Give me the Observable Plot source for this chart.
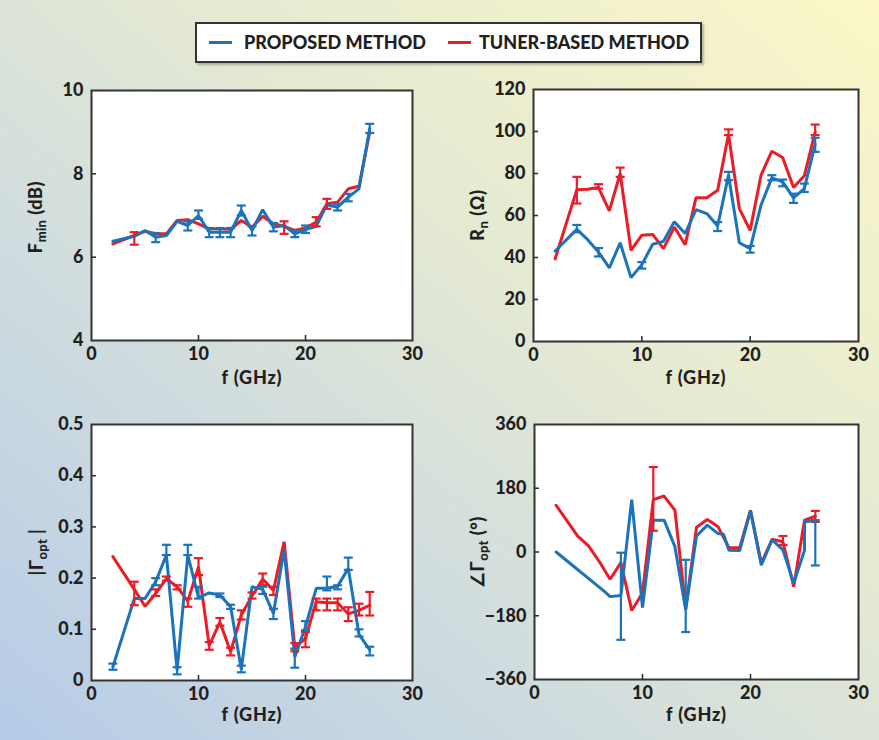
<!DOCTYPE html>
<html>
<head>
<meta charset="utf-8">
<script src="https://cdn.jsdelivr.net/npm/d3@7"></script>
<script src="https://cdn.jsdelivr.net/npm/@observablehq/plot@0.6"></script>
<style>
  html, body { margin: 0; padding: 0; }
  #page {
    position: relative; width: 879px; height: 740px; overflow: hidden;
    background: linear-gradient(to top right, #b5cbe7 0%, #d3dedd 38%, #e4e9d3 60%, #fbf7c6 100%);
    font-family: Lato, "Open Sans", sans-serif; color: #231f20;
  }
  .panel { position: absolute; }
  .ylab {
    position: absolute; white-space: nowrap; font-weight: 900; font-size: 18px; letter-spacing: 0.6px;
    transform: translate(-50%, -50%) rotate(-90deg);
  }
  .ylab sub { font-size: 13px; vertical-align: -4px; letter-spacing: 0.3px; }
  #legend {
    position: absolute; left: 195px; top: 22px; width: 503px; height: 37px;
    border: 2px solid #333; background: #fff; box-shadow: 2px 2px 2px rgba(0,0,0,0.25);
    font-weight: 900; font-size: 18px; white-space: nowrap;
  }
  #legend .sw { position: absolute; top: 17px; width: 23px; height: 3px; }
  #legend .tx { position: absolute; top: 7px; line-height: 22px; letter-spacing: 0px; }
</style>
</head>
<body>
<div id="page">
  <div id="legend">
    <div class="sw" style="left:12px;background:#1b73bc"></div>
    <div class="tx" style="left:47px">PROPOSED METHOD</div>
    <div class="sw" style="left:251px;background:#ec1c27"></div>
    <div class="tx" style="left:282px">TUNER-BASED METHOD</div>
  </div>
  <div class="ylab" style="left:36px;top:217px">F<sub>min</sub> (dB)</div>
  <div class="ylab" style="left:478px;top:215px">R<sub>n</sub> (Ω)</div>
  <div class="ylab" style="left:37px;top:552px">|Γ<sub>opt</sub> |</div>
  <div class="ylab" style="left:478px;top:552px">∠Γ<sub>opt</sub> (°)</div>
</div>
<script>
// ---------- data ----------
const freq = [2,4,5,6,7,8,9,10,11,12,13,14,15,16,17,18,19,20,21,22,23,24,25,26];
const xTicks = [0,10,20,30];

// Fmin (dB)
const fminProposed = [6.38,6.5,6.64,6.48,6.52,6.86,6.76,7.0,6.6,6.6,6.6,7.12,6.64,7.14,6.72,6.76,6.56,6.66,6.74,7.26,7.2,7.44,7.64,9.08];
const fminTuner    = [6.32,6.52,6.62,6.56,6.56,6.88,6.9,6.8,6.68,6.68,6.67,6.88,6.72,6.98,6.8,6.74,6.64,6.7,6.84,7.28,7.32,7.64,7.7,9.0];
const fminProposedErr = [[6,6.36,6.58],[9,6.64,6.86],[10,6.92,7.12],[11,6.48,6.7],[12,6.48,6.7],[13,6.48,6.7],[14,7.0,7.24],[15,6.52,6.74],[17,6.62,6.82],[19,6.48,6.64],[20,6.58,6.76],[23,7.12,7.28],[24,7.34,7.52],[26,8.98,9.2]];
const fminTunerErr = [[4,6.3,6.6],[18,6.56,6.86],[21,6.74,6.96],[22,7.16,7.4]];
const fminTicks = [4,6,8,10];

// Rn (ohm)
const rnProposed = [43.1,53.4,48.5,42.6,35.1,47,30.4,36.6,46.3,47.7,57,51.4,62.8,60.9,55,79.2,47,44.2,64.9,77.9,76,68.4,72.8,94];
const rnTuner    = [39.4,72.3,72.5,73.3,62.2,80,43.4,50.6,51,44.2,54.5,46.1,68.5,68.5,72,98.7,63.3,52.9,79.2,90.6,87.6,73.3,78.9,99.8];
const rnProposedErr = [[4,52,55.5],[6,40.5,44.5],[10,34.7,37.8],[17,52.6,56.9],[18,76.8,80.8],[20,42.3,45.5],[22,76.8,79.2],[23,73.9,77.1],[24,66,70.4],[25,71.2,75.2],[26,90.3,97]];
const rnTunerErr = [[4,65.7,78.4],[6,72.8,74.9],[8,78.4,82.8],[18,98.3,101],[26,98.3,103.3]];
const rnTicks = [0,20,40,60,80,100,120];

// |Gamma_opt|
const gammaProposed = [0.027,0.16,0.16,0.193,0.245,0.02,0.245,0.162,0.171,0.167,0.144,0.022,0.183,0.178,0.131,0.256,0.046,0.105,0.18,0.18,0.184,0.219,0.09,0.06];
const gammaTuner    = [0.242,0.178,0.145,0.17,0.199,0.183,0.155,0.222,0.068,0.114,0.056,0.128,0.165,0.198,0.176,0.271,0.065,0.082,0.154,0.152,0.152,0.13,0.137,0.147];
const gammaProposedErr = [[2,0.021,0.033],[6,0.186,0.2],[7,0.245,0.265],[8,0.012,0.026],[9,0.245,0.265],[10,0.16,0.183],[12,0.163,0.17],[13,0.14,0.148],[14,0.016,0.029],[16,0.169,0.183],[17,0.12,0.14],[19,0.025,0.062],[20,0.098,0.116],[22,0.176,0.203],[23,0.178,0.186],[24,0.216,0.24],[25,0.086,0.1],[26,0.049,0.066]];
const gammaTunerErr = [[4,0.147,0.193],[6,0.165,0.178],[7,0.195,0.203],[8,0.178,0.186],[9,0.144,0.16],[10,0.206,0.239],[11,0.06,0.075],[12,0.107,0.122],[13,0.049,0.064],[14,0.119,0.137],[15,0.16,0.172],[16,0.186,0.209],[17,0.167,0.183],[19,0.057,0.073],[20,0.065,0.095],[21,0.137,0.16],[22,0.137,0.16],[23,0.137,0.16],[24,0.116,0.143],[25,0.127,0.15],[26,0.127,0.173]];
const gammaTicks = [0,0.1,0.2,0.3,0.4,0.5];

// angle of Gamma_opt (deg)
const angleProposedFreq = [2,6.5,7,8,9,10,11,12,13,14,15,16,17,17.5,18,19,20,21,22,23,24,25,25,26];
const angleProposed = [0,-112,-126,-123,148,-157,90,90,15,-163,45,76,52,50,5,4,116,-37,34,6,-88,5,85,90];
const angleTuner    = [132,45,17,-27,-77,-30,-165,-116,148,158,118,-160,70,92,71,12,12,118,-32,36,29,-98,90,101];
const angleProposedErr = [[8,-248,-2],[14,-226,-22],[26,-38,90]];
const angleTunerErr = [[11,60,240],[23,20,45],[26,85,116]];
const angleTicks = [-360,-180,0,180,360];

// ---------- drawing ----------
const BLUE = "#1b73bc", RED = "#ec1c27", INK = "#231f20";
const fmt = d => d < 0 ? "\u2212" + Math.abs(d) : String(d);

const capSymbol = { draw(ctx, size) { const r = Math.sqrt(size / Math.PI); ctx.moveTo(-r, 0); ctx.lineTo(r, 0); } };

function series(fs, vs) { return fs.map((x, i) => ({x, y: vs[i]})); }
function errs(arr) { return arr.map(([x, lo, hi]) => ({x, lo, hi})); }

function errMarks(arr, color) {
  const d = errs(arr);
  return [
    Plot.ruleX(d, {x: "x", y1: "lo", y2: "hi", stroke: color, strokeWidth: 2.2}),
    Plot.dot(d, {x: "x", y: "lo", symbol: capSymbol, r: 4.5, stroke: color, strokeWidth: 2.2}),
    Plot.dot(d, {x: "x", y: "hi", symbol: capSymbol, r: 4.5, stroke: color, strokeWidth: 2.2})
  ];
}

function panel(o) {
  const {left, top, ml, mt, w, h, mr, mb, yDomain, yTicks, pf, pv, tf, tv, pe, te, xlabDy} = o;
  const innerY = yTicks.slice(1, -1);
  const chart = Plot.plot({
    width: ml + w + mr, height: mt + h + mb,
    marginLeft: ml, marginRight: mr, marginTop: mt, marginBottom: mb,
    style: {background: "transparent", fontFamily: "Lato, 'Open Sans', sans-serif", color: INK, overflow: "visible"},
    x: {domain: [0, 30], axis: null},
    y: {domain: yDomain, axis: null},
    marks: [
      Plot.frame({fill: "white", stroke: "none"}),
      Plot.axisX(xTicks, {anchor: "bottom", tickSize: 0, tickPadding: 7, fontSize: 18, fontWeight: 900, fill: INK, label: null}),
      Plot.axisY(yTicks, {anchor: "left", tickSize: 0, tickPadding: 8, fontSize: 18, fontWeight: 900, fill: INK, tickFormat: fmt, label: null}),
      Plot.tickX([10, 20], {x: d => d, insetTop: h - 5, stroke: "#333", strokeWidth: 1.6}),
      Plot.tickY(innerY, {y: d => d, insetRight: w - 5, stroke: "#333", strokeWidth: 1.6}),
      Plot.line(series(tf, tv), {x: "x", y: "y", stroke: RED, strokeWidth: 3, strokeLinejoin: "miter"}),
      Plot.line(series(pf, pv), {x: "x", y: "y", stroke: BLUE, strokeWidth: 3, strokeLinejoin: "miter"}),
      ...errMarks(te, RED),
      ...errMarks(pe, BLUE),
      Plot.frame({stroke: "#333", strokeWidth: 2}),
      Plot.text(["f (GHz)"], {frameAnchor: "bottom", dy: xlabDy, fontSize: 18, fontWeight: 900, fill: INK, style: "letter-spacing:0.6px"})
    ]
  });
  chart.classList.add("panel");
  chart.style.left = left + "px";
  chart.style.top = top + "px";
  chart.querySelectorAll("text").forEach(t => { if (t.textContent === "f (GHz)") t.setAttribute("letter-spacing", "0.8"); });
  document.getElementById("page").appendChild(chart);
}

panel({left: 0, top: 80, ml: 91, mt: 10, w: 321, h: 250, mr: 20, mb: 60,
  yDomain: [4, 10], yTicks: fminTicks, pf: freq, pv: fminProposed, tf: freq, tv: fminTuner,
  pe: fminProposedErr, te: fminTunerErr, xlabDy: 43});
panel({left: 440, top: 80, ml: 93, mt: 9, w: 325, h: 252, mr: 15, mb: 60,
  yDomain: [0, 120], yTicks: rnTicks, pf: freq, pv: rnProposed, tf: freq, tv: rnTuner,
  pe: rnProposedErr, te: rnTunerErr, xlabDy: 42});
panel({left: 0, top: 414, ml: 91, mt: 10, w: 321, h: 256, mr: 20, mb: 56,
  yDomain: [0, 0.5], yTicks: gammaTicks, pf: freq, pv: gammaProposed, tf: freq, tv: gammaTuner,
  pe: gammaProposedErr, te: gammaTunerErr, xlabDy: 40});
panel({left: 440, top: 414, ml: 94, mt: 10, w: 324, h: 255, mr: 15, mb: 56,
  yDomain: [-360, 360], yTicks: angleTicks, pf: angleProposedFreq, pv: angleProposed, tf: freq, tv: angleTuner,
  pe: angleProposedErr, te: angleTunerErr, xlabDy: 41});
</script>
</body>
</html>
